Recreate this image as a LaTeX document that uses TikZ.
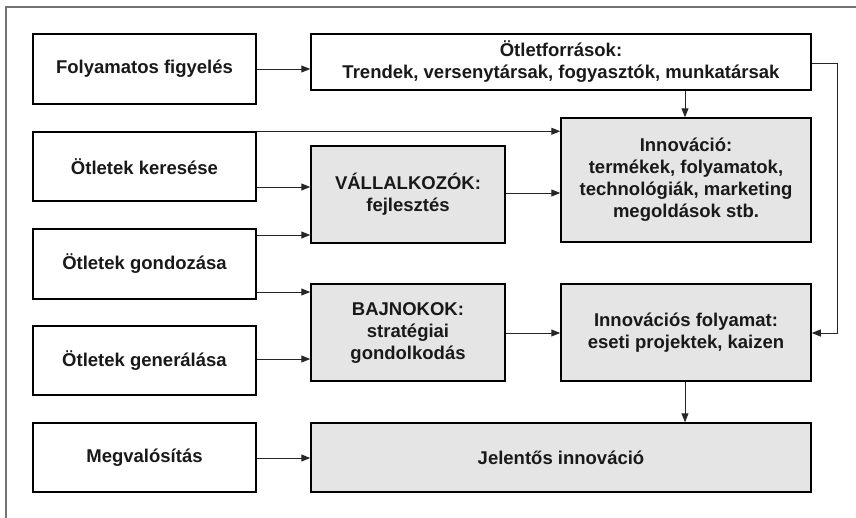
\documentclass[tikz,border=0pt]{standalone}
\usepackage{fontspec}
\setmainfont{Liberation Sans}
\usetikzlibrary{arrows.meta}
\begin{document}
\begin{tikzpicture}[x=1pt,y=-1pt,
  box/.style={draw=black,line width=1.5pt,rectangle,inner sep=0pt,align=center,
    font=\fontsize{18.5}{22}\selectfont\bfseries,text=black!90},
  wbox/.style={box,fill=white},
  gbox/.style={box,fill=black!10},
  conn/.style={line width=1pt,draw=black!85,-{Triangle[length=9pt,width=7pt]}},
  plainconn/.style={line width=1pt,draw=black!85}]
\useasboundingbox (0,0) rectangle (856,517);
\begin{scope}
\clip (0,0) rectangle (856,517);
\draw[line width=1.6pt,black!55] (6,7) rectangle (900,600);
\end{scope}
\node[wbox,minimum width=223pt,minimum height=70pt] (A) at (144.5,69) {Folyamatos figyelés};
\node[wbox,minimum width=500pt,minimum height=56pt] (B) at (561,62) {Ötletforrások:\\Trendek, versenytársak, fogyasztók, munkatársak};
\node[wbox,minimum width=223pt,minimum height=69pt] (C) at (144.5,166.5) {Ötletek keresése};
\node[gbox,minimum width=194pt,minimum height=97pt] (D) at (408,194.5) {VÁLLALKOZÓK:\\fejlesztés};
\node[gbox,minimum width=250pt,minimum height=124pt] (E) at (686,180) {Innováció:\\termékek, folyamatok,\\technológiák, marketing\\megoldások stb.};
\node[wbox,minimum width=223pt,minimum height=70pt] (F) at (144.5,264) {Ötletek gondozása};
\node[gbox,minimum width=194pt,minimum height=97pt] (G) at (408,332.5) {BAJNOKOK:\\stratégiai\\gondolkodás};
\node[wbox,minimum width=223pt,minimum height=69pt] (H) at (144.5,360.5) {Ötletek generálása};
\node[gbox,minimum width=250pt,minimum height=97pt] (I) at (686,332.5) {Innovációs folyamat:\\eseti projektek, kaizen};
\node[wbox,minimum width=223pt,minimum height=69pt] (J) at (144.5,457.5) {Megvalósítás};
\node[gbox,minimum width=500pt,minimum height=69pt] (K) at (561,457.5) {Jelentős innováció};
\coordinate (bR1) at (837,63);
\coordinate (bR2) at (837,333);
% connectors
\draw[conn] (A.east |- 0,69) -- (B.west |- 0,69);
\draw[conn] (C.north east) -- (E.west |- C.north east);
\draw[conn] (C.east |- 0,187) -- (D.west |- 0,187);
\draw[conn] (F.east |- 0,235) -- (D.west |- 0,235);
\draw[conn] (D.east |- 0,193) -- (E.west |- 0,193);
\draw[conn] (B.south -| 685,0) -- (E.north -| 685,0);
\draw[conn] (F.east |- 0,292) -- (G.west |- 0,292);
\draw[conn] (H.east |- 0,359) -- (G.west |- 0,359);
\draw[conn] (G.east |- 0,333) -- (I.west |- 0,333);
\draw[conn] (I.south -| 685,0) -- (K.north -| 685,0);
\draw[conn] (J.east |- 0,458) -- (K.west |- 0,458);
\draw[conn] (B.east |- bR1) -- (bR1) -- (bR2) -- (I.east |- bR2);
\end{tikzpicture}
\end{document}
